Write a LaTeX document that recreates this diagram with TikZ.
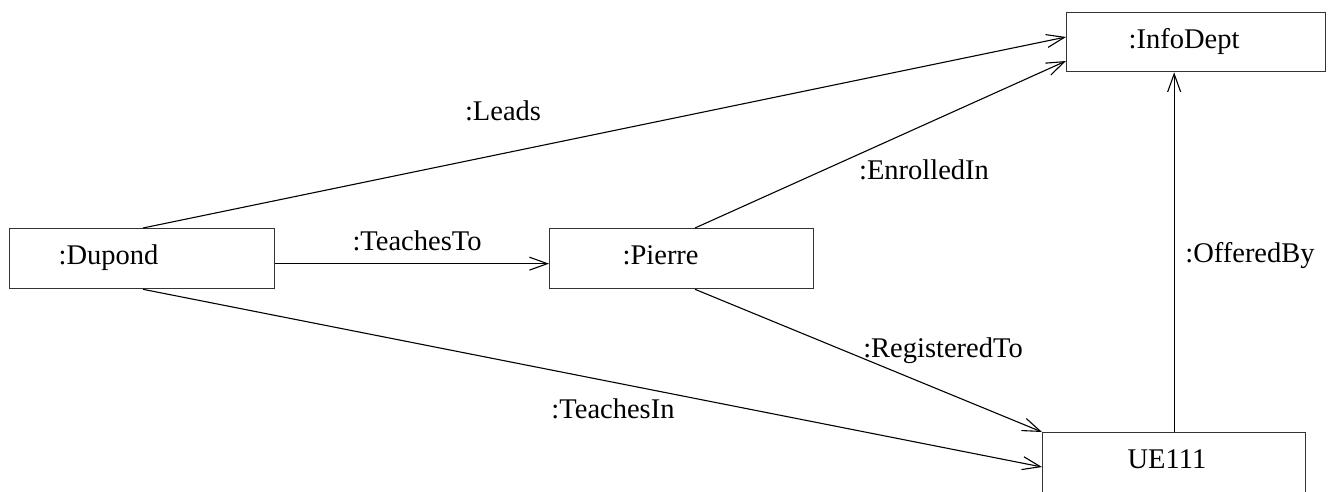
\documentclass[tikz,border=0pt]{standalone}
\usepackage{fontspec}
\setmainfont{Liberation Serif}
\usetikzlibrary{arrows.meta,calc}
\begin{document}
\begin{tikzpicture}[x=1pt,y=-1pt,
  every node/.style={font=\fontsize{28.5}{34}\selectfont},
  objbox/.style={draw=black!80,line width=1.3pt,rectangle,anchor=north west,inner xsep=0pt,inner ysep=0pt,
    minimum height=60pt,text height=20pt,text depth=8pt,align=left},
  conn/.style={line width=1.1pt,-{Straight Barb[length=18pt,width=13pt,line width=1.1pt]}},
  lbl/.style={anchor=base,inner sep=0pt}]
\useasboundingbox (0,0) rectangle (1336,491);
\node[objbox,minimum width=265pt,text width=265pt] (dupond) at (9,228) {\hspace*{49pt}:Dupond};
\node[objbox,minimum width=264pt,text width=264pt] (pierre) at (549,228) {\hspace*{73pt}:Pierre};
\node[objbox,minimum width=259pt,text width=259pt,minimum height=59pt] (infodept) at (1066,12) {\hspace*{62pt}:InfoDept};
\node[objbox,minimum width=263pt,text width=263pt] (ue) at (1042,432) {\hspace*{85pt}UE111};
% connectors
\coordinate (dupTop) at ($(dupond.north west)+(134,0)$);
\coordinate (dupBot) at ($(dupond.south west)+(134,0)$);
\coordinate (pieTop) at ($(pierre.north west)+(146,0)$);
\coordinate (pieBot) at ($(pierre.south west)+(146,0)$);
\coordinate (dupR) at ($(dupond.east)+(0,5)$);
\draw[conn] (dupTop) -- ($(infodept.north west)+(0,25)$);
\draw[conn] (pieTop) -- ($(infodept.north west)+(0,49)$);
\draw[conn] (dupR) -- (dupR -| pierre.west);
\draw[conn] (pieBot) -- (ue.north west);
\draw[conn] (dupBot) -- ($(ue.north west)+(0,35)$);
\draw[conn] (ue.north) -- (ue.north |- infodept.south);
% labels
\node[lbl] (lLeads) at (503,120) {:Leads};
\node[lbl] (lEnr) at (924,179) {:EnrolledIn};
\node[lbl] (lTT) at (417,250) {:TeachesTo};
\node[lbl] (lOff) at (1250,262) {:OfferedBy};
\node[lbl] (lReg) at (943,357) {:RegisteredTo};
\node[lbl] (lTI) at (613,418) {:TeachesIn};
\end{tikzpicture}
\end{document}
